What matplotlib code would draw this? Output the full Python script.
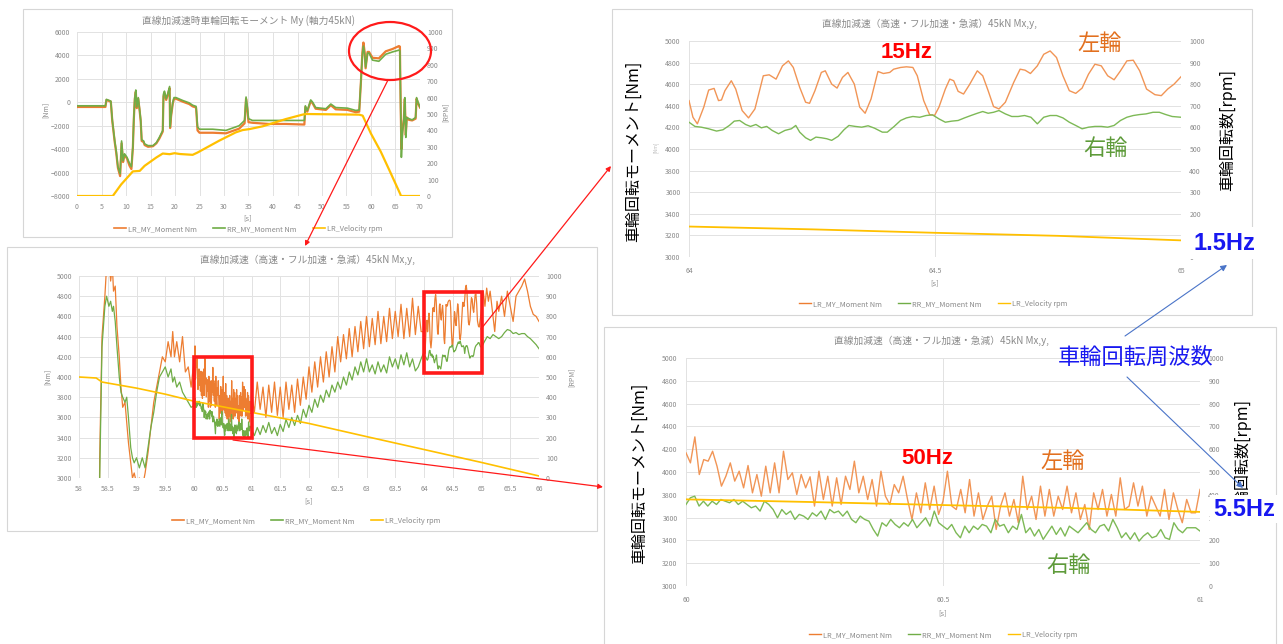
import numpy as np
import matplotlib
matplotlib.use("Agg")
import matplotlib.pyplot as plt
from matplotlib.patches import Rectangle, Ellipse, FancyArrowPatch
from matplotlib.lines import Line2D

plt.rcParams['font.family'] = ['Noto Sans CJK JP', 'DejaVu Sans']

# ---------------- data ----------------
# Overview 0-70 s
t1 = [0, 5.8, 6.0, 6.9, 7.2, 7.7, 8.0, 8.35, 8.8, 9.1, 9.4, 9.7, 10.2, 10.7, 11.1, 11.4, 11.6, 11.8, 12.0, 12.2,
      12.5, 12.8, 13.0, 13.2, 13.6, 13.8, 14.5, 15.5, 16.2, 16.8, 17.5, 17.65, 17.85, 18.2, 18.5, 18.9, 19.0, 19.2,
      19.55, 19.8, 20.2, 21.6, 22.9, 23.6, 24.3, 24.6, 25.0, 27.7, 30.4, 33.1, 34.2, 34.5, 34.75, 35.0, 35.8, 39.2,
      42.6, 46.4, 46.6, 47.0, 47.7, 48.1, 48.7, 50.8, 51.8, 52.8, 55.2, 56.9, 57.6, 57.9, 58.25, 58.45, 58.7, 58.9,
      59.3, 59.6, 60.3, 61.6, 63.0, 64.4, 65.7, 65.9, 66.05, 66.2, 66.4, 66.7, 66.9, 67.1, 67.3, 67.75, 68.4, 69.1,
      69.3, 69.6, 70.0]
rr1 = [-300, -300, 250, 100, -1500, -3300, -4150, -5500, -6100, -3300, -5000, -4400, -4700, -5200, -5500, -3800,
       -1300, 400, 1050, -400, 400, -700, -1500, -3200, -3300, -3550, -3700, -3700, -3450, -3000, -2400, 700, 950,
       300, 700, 1350, -2100, -1100, 0, 400, 400, 150, -50, -250, -350, -2100, -2300, -2300, -2400, -2000, -1550,
       450, -400, -1400, -1550, -1550, -1550, -1550, -300, -700, 200, 0, -450, -550, -150, -450, -500, -700, -650,
       1500, 4100, 4800, 4100, 3000, 4200, 4200, 3600, 3500, 4100, 4300, 4450, 4400, -150, -4700, -2700, -1500, 400,
       -3000, -1300, -1400, -1500, -1300, 400, 0, -400]
lr1 = [-400, -400, 200, 50, -1600, -3400, -4300, -5600, -6300, -3500, -5100, -4500, -4800, -5400, -5700, -3900,
       -1400, 300, 900, -500, 300, -800, -1600, -3300, -3400, -3650, -3800, -3750, -3500, -3100, -2500, 500, 800,
       200, 600, 1200, -2200, -1200, -100, 300, 300, 50, -150, -350, -450, -2400, -2600, -2600, -2650, -2250, -1800,
       300, -500, -1700, -1750, -1850, -1850, -1900, -400, -800, 100, -100, -550, -650, -250, -600, -650, -850, -800,
       1400, 4300, 5100, 4300, 2900, 4300, 4300, 3800, 3750, 4350, 4550, 4800, 4750, -100, -4000, -2500, -1400, 300,
       -2800, -1300, -1500, -1550, -1400, 300, -100, -450]
vel1_t = [0, 7.3, 9.0, 11.4, 12.8, 13.8, 16.2, 17.5, 18.9, 19.9, 21.0, 23.6, 24.6, 29.0, 32.4, 33.8, 35.2, 37.9,
          42.6, 46.0, 46.7, 52.0, 57.6, 58.3, 60.0, 62.0, 64.0, 66.0, 66.1, 70.0]
vel1 = [0, 0, 70, 150, 153, 184, 235, 259, 255, 261, 256, 251, 265, 337, 388, 402, 408, 425, 469, 496, 500, 498,
        496, 490, 380, 270, 141, 10, 0, 0]

# 58-60 s segment
head_t = [58.0, 58.32, 58.36, 58.40, 58.45, 58.48, 58.52, 58.55, 58.58, 58.60, 58.63, 58.66, 58.70, 58.73, 58.76,
          58.80, 58.83, 58.86, 58.90, 58.93, 58.96, 59.0, 59.05, 59.10, 59.15, 59.20, 59.25, 59.30, 59.35, 59.40,
          59.45, 59.50, 59.55, 59.60, 59.63, 59.66, 59.70, 59.75, 59.80, 59.85, 59.90, 59.95]
lr_head = [-600, -500, 3200, 4400, 4800, 5100, 5200, 4950, 5100, 4850, 4900, 4500, 4200, 3900, 3700, 3750, 3550,
           3350, 3150, 3000, 3050, 2950, 3000, 2900, 3050, 3250, 3500, 3750, 3900, 4050, 4200, 4150, 4350, 4200,
           4450, 4200, 4350, 4150, 4400, 4050, 4100, 3900]
rr_head = [-600, -500, 3000, 4300, 4700, 4800, 4700, 4750, 4650, 4700, 4550, 4300, 4000, 3850, 3800, 3750, 3800,
           3600, 3300, 3200, 3150, 3200, 3100, 3200, 3100, 3300, 3500, 3650, 3850, 4000, 4050, 4100, 4000, 4080,
           3950, 4000, 3900, 3950, 3850, 3800, 3750, 3700]

# 60-61 s (sampled evenly)
lr4 = [4168, 4080, 4308, 3978, 4109, 4095, 4182, 4051, 3876, 3963,
       4080, 3920, 4007, 3861, 4057, 3817, 3978, 3788, 4051, 3817,
       4080, 3817, 4182, 3934, 3993, 3803, 3978, 3861, 3958, 3701,
       4007, 3759, 3963, 3701, 3949, 3715, 3963, 3847, 4095, 3817,
       3963, 3759, 3934, 3701, 4007, 3788, 3715, 3890, 3817, 3963,
       3759, 3584, 3817, 3642, 3905, 3671, 3876, 3628, 3744, 4007,
       3701, 3671, 3847, 3642, 3934, 3613, 3817, 3584, 3701, 3788,
       3496, 3701, 3817, 3613, 3759, 3555, 3963, 3671, 3788, 3584,
       3876, 3613, 3847, 3613, 3788, 3671, 3876, 3642, 3817, 3584,
       3715, 3496, 3817, 3671, 3847, 3613, 3803, 3613, 3949, 3671,
       3701, 3905, 3701, 3876, 3613, 3788, 3701, 3613, 3847, 3584,
       3817, 3671, 3555, 3759, 3642, 3642, 3847]
rr4 = [3715, 3774, 3788, 3701, 3744, 3701, 3744, 3715, 3759, 3744,
       3730, 3759, 3715, 3744, 3715, 3686, 3701, 3657, 3744, 3715,
       3671, 3598, 3671, 3628, 3657, 3584, 3628, 3613, 3584, 3642,
       3613, 3657, 3584, 3671, 3642, 3657, 3613, 3657, 3584, 3555,
       3613, 3584, 3569, 3496, 3438, 3555, 3525, 3584, 3540, 3511,
       3555, 3525, 3584, 3511, 3555, 3598, 3525, 3657, 3555, 3525,
       3496, 3540, 3467, 3423, 3525, 3467, 3525, 3496, 3540, 3525,
       3467, 3584, 3525, 3540, 3467, 3525, 3496, 3628, 3467, 3511,
       3438, 3496, 3409, 3467, 3525, 3452, 3511, 3438, 3525, 3496,
       3467, 3511, 3555, 3496, 3467, 3525, 3540, 3482, 3584, 3511,
       3423, 3467, 3409, 3467, 3394, 3438, 3467, 3423, 3438, 3496,
       3423, 3409, 3555, 3496, 3467, 3511, 3511, 3511, 3482]
vel4_t = [60.0, 60.25, 60.5, 60.75, 61.0]
vel4 = [380, 368, 355, 342, 325]

# 61.05-63.95 s (sampled evenly)
lr_mid = [3650, 3950, 3680, 3900, 3600, 3920, 3650, 3950, 3620, 3900,
          3600, 3950, 3680, 3920, 3650, 3980, 3720, 4000, 3780, 4100,
          3850, 4150, 3900, 4200, 3950, 4250, 4000, 4300, 4050, 4400,
          4150, 4420, 4180, 4480, 4200, 4500, 4250, 4550, 4280, 4600,
          4300, 4580, 4320, 4650, 4330, 4600, 4350, 4680, 4380, 4650,
          4400, 4720, 4380, 4680, 4400, 4780, 4420, 4700, 4450]
rr_mid = [3420, 3500, 3430, 3520, 3450, 3550, 3440, 3500, 3420, 3530,
          3460, 3580, 3500, 3600, 3520, 3620, 3540, 3680, 3600, 3720,
          3650, 3780, 3700, 3820, 3750, 3870, 3800, 3920, 3850, 3950,
          3880, 4000, 3920, 4050, 3970, 4100, 4020, 4150, 4050, 4180,
          4050, 4120, 4030, 4150, 4050, 4120, 4040, 4200, 4100, 4180,
          4080, 4220, 4120, 4240, 4100, 4180, 4060, 4100, 4180]

# 64-65 s
lr3_t = [64.000, 64.008, 64.017, 64.030, 64.040, 64.051, 64.060, 64.066, 64.073, 64.086,
         64.095, 64.108, 64.121, 64.134, 64.151, 64.163, 64.177, 64.190, 64.202, 64.212,
         64.225, 64.237, 64.245, 64.256, 64.269, 64.277, 64.290, 64.301, 64.312, 64.323,
         64.336, 64.347, 64.358, 64.370, 64.384, 64.395, 64.408, 64.416, 64.430, 64.442,
         64.455, 64.464, 64.477, 64.489, 64.499, 64.508, 64.521, 64.530, 64.538, 64.547,
         64.558, 64.570, 64.586, 64.597, 64.608, 64.619, 64.630, 64.643, 64.660, 64.673,
         64.683, 64.694, 64.708, 64.721, 64.734, 64.747, 64.760, 64.773, 64.786, 64.799,
         64.812, 64.825, 64.838, 64.851, 64.864, 64.877, 64.890, 64.903, 64.916, 64.930,
         64.947, 64.960, 64.973, 64.986, 65.000]
lr3 = [4448, 4294, 4233, 4387, 4546, 4561, 4448, 4454, 4540, 4632,
       4555, 4356, 4288, 4371, 4678, 4687, 4647, 4770, 4816, 4755,
       4571, 4433, 4423, 4540, 4709, 4724, 4601, 4564, 4663, 4709,
       4601, 4387, 4331, 4463, 4718, 4699, 4709, 4739, 4755, 4761,
       4755, 4678, 4448, 4319, 4310, 4387, 4555, 4647, 4632, 4534,
       4509, 4595, 4724, 4678, 4540, 4393, 4371, 4433, 4617, 4739,
       4730, 4699, 4770, 4877, 4908, 4847, 4678, 4540, 4515, 4564,
       4693, 4785, 4770, 4678, 4641, 4724, 4816, 4822, 4724, 4555,
       4503, 4494, 4555, 4601, 4669]
rr3_t = [64.000, 64.012, 64.025, 64.040, 64.056, 64.069, 64.082, 64.092, 64.103, 64.115,
         64.125, 64.136, 64.147, 64.158, 64.169, 64.182, 64.195, 64.208, 64.217, 64.225,
         64.237, 64.247, 64.258, 64.269, 64.280, 64.290, 64.303, 64.315, 64.325, 64.338,
         64.351, 64.364, 64.377, 64.393, 64.403, 64.417, 64.430, 64.442, 64.455, 64.469,
         64.482, 64.495, 64.508, 64.521, 64.534, 64.547, 64.560, 64.573, 64.586, 64.597,
         64.608, 64.619, 64.630, 64.643, 64.656, 64.669, 64.682, 64.695, 64.708, 64.721,
         64.734, 64.747, 64.760, 64.773, 64.786, 64.799, 64.812, 64.825, 64.838, 64.851,
         64.864, 64.877, 64.890, 64.903, 64.916, 64.929, 64.943, 64.956, 64.969, 64.982,
         65.000]
rr3 = [4248, 4209, 4202, 4187, 4166, 4178, 4218, 4258, 4264, 4227,
       4209, 4227, 4196, 4209, 4172, 4141, 4172, 4187, 4218, 4156,
       4104, 4080, 4110, 4104, 4095, 4080, 4117, 4178, 4218, 4209,
       4202, 4215, 4193, 4156, 4156, 4209, 4264, 4288, 4301, 4294,
       4310, 4316, 4279, 4248, 4258, 4264, 4288, 4310, 4331, 4347,
       4331, 4340, 4356, 4325, 4301, 4301, 4310, 4294, 4233, 4294,
       4310, 4310, 4288, 4248, 4218, 4187, 4202, 4209, 4209, 4202,
       4218, 4264, 4294, 4310, 4319, 4325, 4340, 4340, 4319, 4301,
       4294]
vel3_t = [64.0, 64.25, 64.5, 64.75, 65.0]
vel3 = [141, 128, 112, 98, 77]

# 65-66 s
lr_tail_t = [65.03, 65.06, 65.09, 65.12, 65.15, 65.20, 65.23, 65.27, 65.30, 65.35, 65.40, 65.45, 65.50, 65.55,
             65.60, 65.65, 65.70, 65.75, 65.80, 65.85, 65.90, 65.95, 66.0]
lr_tail = [4850, 4700, 4880, 4750, 4850, 4600, 4450, 4750, 4650, 4800, 4600, 4850, 4700, 4550, 4800, 4850, 4900,
           4970, 4850, 4700, 4620, 4600, 4550]
rr_tail = [4350, 4400, 4380, 4420, 4400, 4380, 4400, 4440, 4470, 4460, 4430, 4440, 4420, 4430, 4430, 4400, 4380,
           4350, 4320, 4280]
vel2_t = [58.0, 58.3, 58.4, 59.0, 59.5, 60.0, 61.0, 62.0, 63.0, 64.0, 65.0, 66.0]
vel2 = [500, 495, 475, 445, 415, 380, 325, 270, 205, 141, 77, 10]

legend_labels = ['LR_MY_Moment Nm', 'RR_MY_Moment Nm', 'LR_Velocity rpm']
title1 = '直線加減速時車輪回転モーメント My (軸力45kN)'
title2 = '直線加減速（高速・フル加速・急減）45kN Mx,y,'

# sample times for evenly sampled segments
t4_lr = np.linspace(60.0, 61.0, len(lr4))
t4_rr = np.linspace(60.0, 61.0, len(rr4))
t_mid = np.linspace(61.05, 63.95, len(lr_mid))
t_rr_tail = np.linspace(65.05, 66.0, len(rr_tail))

lr2_t = np.concatenate([head_t, t4_lr, t_mid, lr3_t, lr_tail_t])
lr2 = np.concatenate([lr_head, lr4, lr_mid, lr3, lr_tail])
rr2_t = np.concatenate([head_t, t4_rr, t_mid, rr3_t, t_rr_tail])
rr2 = np.concatenate([rr_head, rr4, rr_mid, rr3, rr_tail])

# ---------------- layout ----------------
W, H = 1283, 644
fig = plt.figure(figsize=(W / 100, H / 100), dpi=100)
fig.patch.set_facecolor('white')

C_OR = '#ED7D31'
C_GR = '#70AD47'
C_YE = '#FFC000'
C_GRID = '#E2E2E2'
C_TXT = '#8A8A8A'
RED = '#FF1A1A'
BLUE = '#1818F0'


def fx(x):
    return x / W


def fy(y):
    return 1 - y / H


def rect(l, t, r, b):
    return [l / W, 1 - b / H, (r - l) / W, (b - t) / H]


def panel_box(l, t, r, b):
    fig.add_artist(Rectangle((fx(l), fy(b)), (r - l) / W, (b - t) / H, transform=fig.transFigure,
                             facecolor='white', edgecolor='#D6D6D6', lw=0.8, zorder=-1))


def make_axes(r, xlim, xticks, ylim, yticks, pad_x=4, pad_y=5):
    ax = fig.add_axes(r)
    ax.set_xlim(*xlim)
    ax.set_ylim(*ylim)
    ax.set_xticks(xticks)
    ax.set_xticklabels([f'{v:g}' for v in xticks])
    ax.set_yticks(yticks)
    for s in ax.spines.values():
        s.set_visible(False)
    ax.grid(True, color=C_GRID, lw=0.7)
    ax.set_axisbelow(True)
    ax.tick_params(axis='both', length=0, labelsize=5, colors=C_TXT)
    ax.tick_params(axis='x', pad=pad_x)
    ax.tick_params(axis='y', pad=pad_y)
    tw = ax.twinx()
    tw.set_ylim(0, 1000)
    tw.set_yticks(range(0, 1001, 100))
    for s in tw.spines.values():
        s.set_visible(False)
    tw.tick_params(axis='y', length=0, labelsize=5, colors=C_TXT, pad=pad_y)
    return ax, tw


def legend(cx, cy, lw):
    handles = [Line2D([], [], color=c, lw=lw) for c in (C_OR, C_GR, C_YE)]
    fig.legend(handles, legend_labels, loc='center', bbox_to_anchor=(fx(cx), fy(cy)),
               bbox_transform=fig.transFigure, ncol=3, frameon=False, fontsize=5.3,
               labelcolor=C_TXT, handlelength=1.6, handletextpad=0.3, columnspacing=2.2)


# Panel boxes
panel_box(23, 9, 452, 237)
panel_box(7, 247, 597, 531)
panel_box(612, 9, 1252, 315)
panel_box(604, 327, 1276, 646)

# Panel 1
ax1, tw1 = make_axes(rect(77, 32, 420, 196), (0, 70), list(range(0, 71, 5)), (-8000, 6000),
                     list(range(-8000, 6001, 2000)), pad_x=5, pad_y=5)
ax1.plot(t1, lr1, color=C_OR, lw=1.6)
ax1.plot(t1, rr1, color=C_GR, lw=1.2)
tw1.plot(vel1_t, vel1, color=C_YE, lw=1.6)
fig.text(fx(248), fy(21), title1, ha='center', va='center', fontsize=7, color=C_TXT)
fig.text(fx(248), fy(218), '[s]', ha='center', va='center', fontsize=5.5, color=C_TXT)
fig.text(fx(46), fy(110), '[Nm]', ha='center', va='center', fontsize=5, color=C_TXT, rotation=90)
fig.text(fx(446), fy(112), '[RPM]', ha='center', va='center', fontsize=5, color=C_TXT, rotation=90)
legend(248, 229, 1.2)

# Panel 2
ax2, tw2 = make_axes(rect(79, 276, 539, 478), (58, 66), list(np.arange(58, 66.01, 0.5)), (3000, 5000),
                     list(range(3000, 5001, 200)), pad_x=5, pad_y=5)
ax2.plot(lr2_t, lr2, color=C_OR, lw=0.9)
ax2.plot(rr2_t, rr2, color=C_GR, lw=0.9)
tw2.plot(vel2_t, vel2, color=C_YE, lw=1.2)
fig.text(fx(308), fy(260), title2, ha='center', va='center', fontsize=7, color=C_TXT)
fig.text(fx(309), fy(501), '[s]', ha='center', va='center', fontsize=5.5, color=C_TXT)
fig.text(fx(48), fy(377), '[Nm]', ha='center', va='center', fontsize=5, color=C_TXT, rotation=90)
fig.text(fx(572), fy(377), '[RPM]', ha='center', va='center', fontsize=5, color=C_TXT, rotation=90)
legend(306, 521, 1.2)

# Panel 3
ax3, tw3 = make_axes(rect(689, 41, 1181, 257), (64, 65), [64, 64.5, 65], (3000, 5000),
                     list(range(3000, 5001, 200)), pad_x=7, pad_y=6)
ax3.plot(lr3_t, lr3, color='#F19556', lw=1.0)
ax3.plot(rr3_t, rr3, color='#7DB956', lw=1.0)
tw3.plot(vel3_t, vel3, color=C_YE, lw=1.3)
fig.text(fx(930), fy(24), title2, ha='center', va='center', fontsize=7, color=C_TXT)
fig.text(fx(935), fy(283), '[s]', ha='center', va='center', fontsize=5.5, color=C_TXT)
fig.text(fx(656), fy(147), '[Nm]', ha='center', va='center', fontsize=3.5, color='#BBBBBB', rotation=90)
legend(933, 304, 1.0)

# Panel 4
ax4, tw4 = make_axes(rect(686, 358, 1200, 586), (60, 61), [60, 60.5, 61], (3000, 5000),
                     list(range(3000, 5001, 200)), pad_x=7, pad_y=6)
ax4.plot(t4_lr, lr4, color='#F19556', lw=1.0)
ax4.plot(t4_rr, rr4, color='#7DB956', lw=1.0)
tw4.plot(vel4_t, vel4, color=C_YE, lw=1.3)
fig.text(fx(942), fy(341), title2, ha='center', va='center', fontsize=7, color=C_TXT)
fig.text(fx(943), fy(613), '[s]', ha='center', va='center', fontsize=5.5, color=C_TXT)
legend(943, 635, 1.0)

# ---------------- annotations ----------------
# big axis labels
fig.text(fx(633), fy(151), '車輪回転モーメント[Nm]', rotation=90, ha='center', va='center',
         fontsize=11.5, color='black', zorder=3)
fig.text(fx(1228), fy(130), '車輪回転数[rpm]', rotation=90, ha='center', va='center',
         fontsize=11.5, color='black', zorder=3)
fig.text(fx(639), fy(473), '車輪回転モーメント[Nm]', rotation=90, ha='center', va='center',
         fontsize=11.5, color='black', zorder=3)
fig.text(fx(1243), fy(460), '車輪回転数[rpm]', rotation=90, ha='center', va='center',
         fontsize=11.5, color='black', zorder=3)

hz_font = ['Liberation Sans', 'DejaVu Sans']
fig.text(fx(907), fy(52), '15Hz', ha='center', va='center', fontsize=16, color='#FF0000',
         weight='bold', family=hz_font, zorder=4)
fig.text(fx(927), fy(458), '50Hz', ha='center', va='center', fontsize=16, color='#FF0000',
         weight='bold', family=hz_font, zorder=4)
fig.text(fx(1100), fy(43), '左輪', ha='center', va='center', fontsize=16, color='#E2701F', zorder=4)
fig.text(fx(1106), fy(148), '右輪', ha='center', va='center', fontsize=16, color='#5E9B3A', zorder=4)
fig.text(fx(1063), fy(461), '左輪', ha='center', va='center', fontsize=16, color='#E2701F', zorder=4)
fig.text(fx(1069), fy(565), '右輪', ha='center', va='center', fontsize=16, color='#5E9B3A', zorder=4)
fig.text(fx(1136), fy(357), '車輪回転周波数', ha='center', va='center', fontsize=16, color=BLUE, zorder=4)
fig.text(fx(1224), fy(243), '1.5Hz', ha='center', va='center', fontsize=17, color=BLUE, weight='bold',
         family=hz_font, zorder=6,
         bbox=dict(facecolor='white', edgecolor='none', pad=3))
fig.text(fx(1244), fy(509), '5.5Hz', ha='center', va='center', fontsize=17, color=BLUE, weight='bold',
         family=hz_font, zorder=6,
         bbox=dict(facecolor='white', edgecolor='none', pad=2))


def arrow(p0, p1, color, lw=1.0, ms=8, head=True):
    style = '-|>' if head else '-'
    fig.add_artist(FancyArrowPatch((fx(p0[0]), fy(p0[1])), (fx(p1[0]), fy(p1[1])),
                                   transform=fig.transFigure, arrowstyle=style, mutation_scale=ms,
                                   color=color, lw=lw, shrinkA=0, shrinkB=0, zorder=7))


# blue arrows
arrow((1125, 336), (1227, 265), '#4A74C8', lw=0.8, ms=9)
arrow((1127, 377), (1243, 488), '#4A74C8', lw=0.8, ms=9)

# red ellipse and arrows
fig.add_artist(Ellipse((fx(390), fy(51)), 82 / W, 58 / H, transform=fig.transFigure, fill=False,
                       edgecolor=RED, lw=1.6, zorder=7))
arrow((388, 80), (305, 246), RED, lw=0.9, ms=7)
arrow((481, 329), (611, 166), RED, lw=0.9, ms=7)
arrow((233, 440), (603, 487), RED, lw=0.9, ms=7)

# red boxes on panel 2 (data coordinates)
fig.add_artist(Rectangle((60, 3395), 1, 805, transform=ax2.transData, fill=False, edgecolor=RED,
                         lw=2.6, zorder=8))
fig.add_artist(Rectangle((64, 4040), 1, 800, transform=ax2.transData, fill=False, edgecolor=RED,
                         lw=2.6, zorder=8))

fig.savefig('out.png', dpi=100)
